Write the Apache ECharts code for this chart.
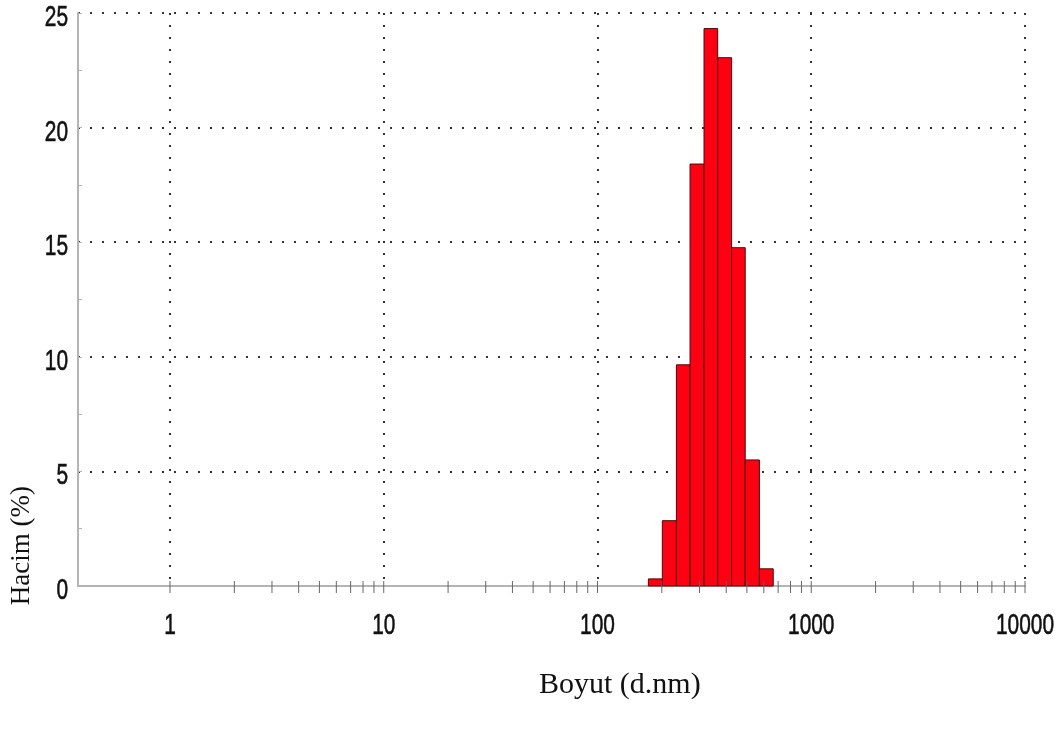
<!DOCTYPE html>
<html>
<head>
<meta charset="utf-8">
<title>Boyut dağılımı (hacim)</title>
<script src="https://cdn.jsdelivr.net/npm/echarts@6/dist/echarts.min.js"></script>
<style>
  html, body { margin: 0; padding: 0; background: #ffffff; }
  #chart { width: 1058px; height: 731px; }
</style>
</head>
<body>
<div id="chart"></div>
<script>
// Size classes (d.nm): lower and upper edge of each histogram bin
const binLower = [173, 201, 234, 271, 315, 365, 424, 491, 572];
const binUpper = [201, 234, 271, 315, 365, 424, 491, 572, 664];
// Volume percentage in each class
const volumePct = [0.31, 2.85, 9.65, 18.41, 24.32, 23.05, 14.76, 5.50, 0.75];

// Axis ticks and their labels
const xMajorTicks = [1, 10, 100, 1000, 10000];
const xMajorLabels = ['1', '10', '100', '1000', '10000'];
const xMinorTicks = [
  2, 3, 4, 5, 6, 7, 8, 9,
  20, 30, 40, 50, 60, 70, 80, 90,
  200, 300, 400, 500, 600, 700, 800, 900,
  2000, 3000, 4000, 5000, 6000, 7000, 8000, 9000
];
const yTicks = [0, 5, 10, 15, 20, 25];
const yLabels = ['0', '5', '10', '15', '20', '25'];

const X_MIN = 0.3712;
const X_MAX = 10000;

const barData = binLower.map((lo, i) => [lo, binUpper[i], volumePct[i]]);
const tickData = xMajorTicks.concat(xMinorTicks).map(v => [v]);
const xLabelData = xMajorTicks.map(v => [v]);
const yLabelData = yTicks.map(v => [X_MIN, v]);

// Tick numbers use a tall, condensed sans face
const numFont = '29px "Liberation Sans", Arial, sans-serif';
const numScaleX = 0.72;
const axisGray = '#b4b4b4';
const gridDots = { color: '#333', width: 2, type: [2, 10] };

const chart = echarts.init(document.getElementById('chart'), null, { renderer: 'canvas' });

chart.setOption({
  animation: false,
  backgroundColor: '#ffffff',
  grid: { left: 78, right: 33, top: 13, bottom: 145, containLabel: false },
  xAxis: {
    type: 'log',
    logBase: 10,
    min: X_MIN,
    max: X_MAX,
    axisLine: { show: true, onZero: false, lineStyle: { color: axisGray, width: 2 } },
    axisTick: { show: false },
    axisLabel: { show: false },
    splitLine: { show: true, showMinLine: false, lineStyle: gridDots }
  },
  yAxis: {
    type: 'value',
    min: 0,
    max: 25,
    interval: 5,
    axisLine: { show: true, lineStyle: { color: axisGray, width: 2 } },
    axisTick: { show: true, inside: true, length: 4, lineStyle: { color: axisGray, width: 1 } },
    minorTick: { show: true, splitNumber: 2, length: 4, lineStyle: { color: axisGray, width: 1 } },
    axisLabel: { show: false },
    splitLine: { show: true, showMinLine: false, lineStyle: gridDots }
  },
  graphic: [
    {
      type: 'text',
      left: 8,
      top: 486,
      rotation: Math.PI / 2,
      originX: 0,
      originY: 0,
      style: { text: 'Hacim (%)', font: '27px "Liberation Serif", "Times New Roman", serif', fill: '#111' }
    },
    {
      type: 'text',
      left: 539,
      top: 670,
      style: { text: 'Boyut (d.nm)', font: '30px "Liberation Serif", "Times New Roman", serif', fill: '#111' }
    }
  ],
  series: [
    {
      name: 'Hacim',
      type: 'custom',
      data: barData,
      encode: { x: [0, 1], y: 2 },
      renderItem: function (params, api) {
        const p0 = api.coord([api.value(0), api.value(2)]);
        const p1 = api.coord([api.value(1), 0]);
        return {
          type: 'rect',
          shape: { x: p0[0], y: p0[1], width: p1[0] - p0[0], height: p1[1] - p0[1] },
          style: { fill: '#ff0012', stroke: '#4a0a0a', lineWidth: 1 }
        };
      },
      z: 3
    },
    {
      // tick marks across the size axis (decades and 2..9 subdivisions)
      name: 'xTicks',
      type: 'custom',
      data: tickData,
      encode: { x: 0 },
      clip: false,
      silent: true,
      renderItem: function (params, api) {
        const p = api.coord([api.value(0), 0]);
        return {
          type: 'line',
          shape: { x1: p[0], y1: p[1] - 5, x2: p[0], y2: p[1] + 7 },
          style: { stroke: '#666', lineWidth: 1 }
        };
      },
      z: 4
    },
    {
      name: 'xLabels',
      type: 'custom',
      data: xLabelData,
      encode: { x: 0 },
      clip: false,
      silent: true,
      renderItem: function (params, api) {
        const p = api.coord([api.value(0), 0]);
        return {
          type: 'text',
          x: p[0],
          y: p[1] + 40,
          scaleX: numScaleX,
          style: {
            text: xMajorLabels[params.dataIndex],
            font: numFont,
            fill: '#111',
            stroke: '#111',
            lineWidth: 0.6,
            align: 'center',
            verticalAlign: 'middle'
          }
        };
      },
      z: 4
    },
    {
      name: 'yLabels',
      type: 'custom',
      data: yLabelData,
      encode: { x: 0, y: 1 },
      clip: false,
      silent: true,
      renderItem: function (params, api) {
        const p = api.coord([api.value(0), api.value(1)]);
        return {
          type: 'text',
          x: p[0] - 10,
          y: p[1] + 5,
          scaleX: numScaleX,
          style: {
            text: yLabels[params.dataIndex],
            font: numFont,
            fill: '#111',
            stroke: '#111',
            lineWidth: 0.6,
            align: 'right',
            verticalAlign: 'middle'
          }
        };
      },
      z: 4
    }
  ]
});
</script>
</body>
</html>
